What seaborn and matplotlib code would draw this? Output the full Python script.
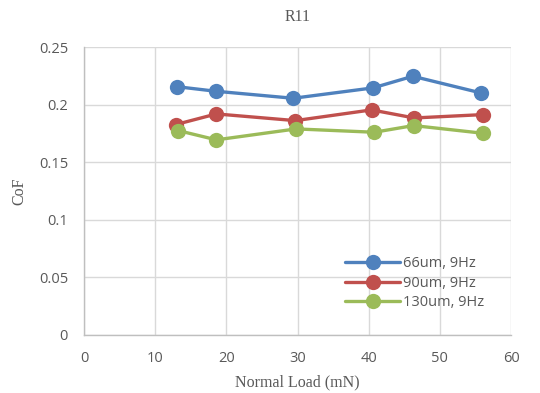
import matplotlib
matplotlib.use("Agg")
import matplotlib.pyplot as plt
import seaborn as sns
import pandas as pd

series_names = ["66um, 9Hz", "90um, 9Hz", "130um, 9Hz"]
load_66 = [13.0, 18.5, 29.4, 40.6, 46.2, 55.8]
cof_66 = [0.2156, 0.2116, 0.2055, 0.2145, 0.2246, 0.2101]
load_90 = [12.9, 18.6, 29.7, 40.4, 46.4, 56.0]
cof_90 = [0.1827, 0.1919, 0.1861, 0.1954, 0.1884, 0.1913]
load_130 = [13.2, 18.6, 29.8, 40.8, 46.3, 56.1]
cof_130 = [0.1775, 0.1694, 0.1789, 0.1760, 0.1818, 0.1751]
x_ticks = [0, 10, 20, 30, 40, 50, 60]
y_ticks = [0, 0.05, 0.1, 0.15, 0.2, 0.25]
y_tick_labels = ["0", "0.05", "0.1", "0.15", "0.2", "0.25"]
colors = ["#4F81BD", "#C0504D", "#9BBB59"]

rows = []
for name, xs, ys in zip(series_names, [load_66, load_90, load_130], [cof_66, cof_90, cof_130]):
    for i, (x, y) in enumerate(zip(xs, ys)):
        rows.append({"Load": x, "CoF": y, "Series": name, "order": i})
df = pd.DataFrame(rows)

sns.set_style("white")
fig = plt.figure(figsize=(5.4, 3.93), dpi=100)
ax = fig.add_axes([0.1556, 0.1476, 0.7907, 0.7328])

sns.lineplot(data=df, x="Load", y="CoF", hue="Series", hue_order=series_names,
             palette=colors, marker="o", markersize=11, markeredgewidth=0,
             linewidth=2.4, sort=False, ax=ax, zorder=3)

ax.set_xlim(0, 60)
ax.set_ylim(0, 0.25)
ax.set_xticks(x_ticks)
ax.set_yticks(y_ticks)
ax.set_yticklabels(y_tick_labels)
ax.grid(True, color="#d9d9d9", linewidth=1.0, zorder=0)
ax.set_axisbelow(True)
for s in ["top", "right"]:
    ax.spines[s].set_visible(False)
for s in ["left", "bottom"]:
    ax.spines[s].set_color("#bfbfbf")
    ax.spines[s].set_linewidth(1.0)
ax.tick_params(axis="both", length=0, labelsize=10.5, labelcolor="#595959", pad=11.5)
for lab in ax.get_xticklabels() + ax.get_yticklabels():
    lab.set_fontfamily(["Open Sans", "DejaVu Sans"])

ax.set_xlabel("Normal Load (mN)", fontfamily="Liberation Serif", fontsize=11.5,
              color="#595959", labelpad=6)
ax.set_ylabel("CoF", fontfamily="Liberation Serif", fontsize=11.5,
              color="#595959", labelpad=8)
ax.set_title("R11", fontfamily="Liberation Serif", fontsize=11.5,
             color="#595959", pad=18.5)

leg = ax.legend(loc="upper left", bbox_to_anchor=(0.611, 0.273), frameon=False,
                fontsize=10.5, handlelength=3.8, handletextpad=0.15,
                labelspacing=0.3, borderaxespad=0, borderpad=0)
for t in leg.get_texts():
    t.set_color("#595959")
    t.set_fontfamily(["Open Sans", "DejaVu Sans"])

fig.savefig("out.png", dpi=100)
